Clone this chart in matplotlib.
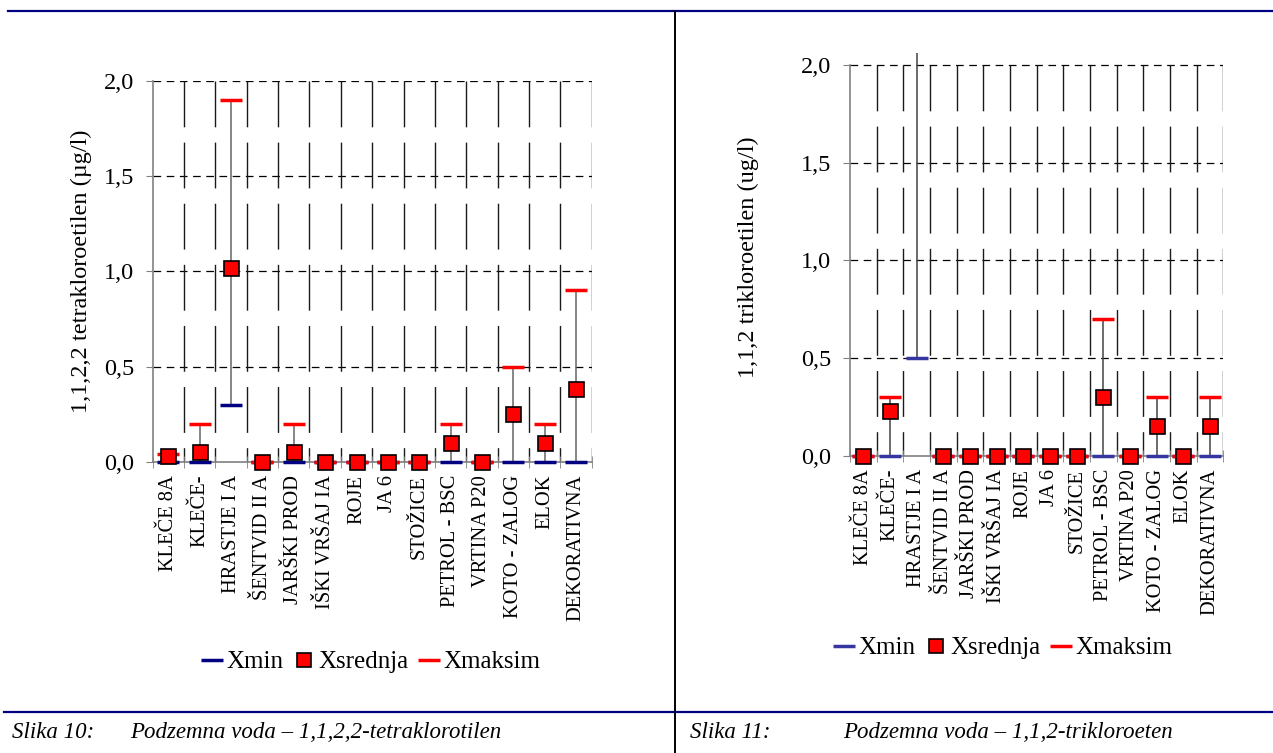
import matplotlib
matplotlib.use('Agg')
import matplotlib.pyplot as plt
from matplotlib.lines import Line2D
import numpy as np

plt.rcParams['font.family'] = ['Liberation Serif', 'DejaVu Serif']
plt.rcParams['lines.scale_dashes'] = False

postaje = ['KLEČE 8A', 'KLEČE-', 'HRASTJE I A', 'ŠENTVID II A', 'JARŠKI PROD',
           'IŠKI VRŠAJ IA', 'ROJE', 'JA 6', 'STOŽICE', 'PETROL - BSC',
           'VRTINA P20', 'KOTO - ZALOG', 'ELOK', 'DEKORATIVNA']

# 1,1,2,2 tetrakloroetilen (ug/l)
tetra_min = [0, 0, 0.3, 0, 0, 0, 0, 0, 0, 0, 0, 0, 0, 0]
tetra_sred = [0.03, 0.05, 1.02, 0, 0.05, 0, 0, 0, 0, 0.1, 0, 0.25, 0.1, 0.38]
tetra_max = [0.04, 0.2, 1.9, 0, 0.2, 0, 0, 0, 0, 0.2, 0, 0.5, 0.2, 0.9]

# 1,1,2 trikloroetilen (ug/l) - HRASTJE srednja/maks izven skale
tri_min = [0, 0, 0.5, 0, 0, 0, 0, 0, 0, 0, 0, 0, 0, 0]
tri_sred = [0, 0.23, 2.6, 0, 0, 0, 0, 0, 0, 0.3, 0, 0.15, 0, 0.15]
tri_max = [0, 0.3, 4.8, 0, 0, 0, 0, 0, 0, 0.7, 0, 0.3, 0, 0.3]

yticks = [0, 0.5, 1.0, 1.5, 2.0]

W, H = 1273, 753
fig = plt.figure(figsize=(W / 100, H / 100), dpi=100)


def px(x, y):
    return x / W, 1 - y / H


def narisi(ax, mins, sred, maxs, ylabel, min_color, hl_color, ytop, label_xy):
    n = len(postaje)
    x = np.arange(n)
    ax.set_xlim(-0.5, n - 0.5)
    ax.set_ylim(-0.045, ytop)
    # grid
    ax.hlines(yticks[1:], -0.5, n - 0.5, colors='black', linewidth=0.9,
              linestyles=[(0, (5.5, 4))], zorder=1)
    ax.vlines(np.arange(0.5, n), 2.0, 0, colors='#1a1a1a', linewidth=1.0,
              linestyles=[(0, (33, 11))], zorder=1)
    # high-low lines
    ax.vlines(x, mins, maxs, colors=hl_color, linewidth=1.1, zorder=2)
    ax.plot(x, mins, linestyle='none', marker='_', markersize=16.5,
            markeredgewidth=2.5, color=min_color, zorder=3, label='Xmin')
    ax.plot(x, maxs, linestyle='none', marker='_', markersize=16.5,
            markeredgewidth=2.5, color='#ff0000', zorder=3, label='Xmaksim')
    ax.plot(x, sred, linestyle='none', marker='s', markersize=10.8,
            markerfacecolor='#ff0000', markeredgecolor='black',
            markeredgewidth=1.2, zorder=4, label='Xsrednja')

    for s in ['top', 'right']:
        ax.spines[s].set_visible(False)
    ax.spines['left'].set_bounds(0, 2.0)
    ax.spines['left'].set_color('#808080')
    ax.spines['left'].set_linewidth(1.2)
    ax.spines['bottom'].set_position(('data', 0))
    ax.spines['bottom'].set_color('#808080')
    ax.spines['bottom'].set_linewidth(1.2)

    ax.set_yticks(yticks)
    ax.set_yticklabels([f'{v:.1f}'.replace('.', ',') for v in yticks], fontsize=17.5)
    ax.tick_params(axis='y', direction='out', length=5, color='#808080', pad=8.5)
    ax.set_xticks(x)
    ax.set_xticklabels(postaje, rotation=90, fontsize=14.8)
    ax.tick_params(axis='x', length=0, pad=9.5)
    ax.set_xticks(np.arange(-0.5, n), minor=True)
    ax.tick_params(axis='x', which='minor', direction='inout', length=8, color='#808080')
    ax.set_ylabel(ylabel, fontsize=17.5)
    ax.yaxis.set_label_coords(*label_xy)


ax1 = fig.add_axes([152.7 / W, 1 - 470.3 / H, 439 / W, (470.3 - 81) / H])
narisi(ax1, tetra_min, tetra_sred, tetra_max,
       '1,1,2,2 tetrakloroetilen (µg/l)', '#000080', '#666666', 2.0, (-0.138, 0.511))

ax2 = fig.add_axes([850 / W, 1 - 464.5 / H, 373.3 / W, (464.5 - 53.3) / H])
narisi(ax2, tri_min, tri_sred, tri_max,
       '1,1,2 trikloroetilen (ug/l)', '#3636a0', '#444444', 2.06, (-0.243, 0.503))

for ax, (lx, ly) in [(ax1, (372, 662)), (ax2, (1004, 648))]:
    h, l = ax.get_legend_handles_labels()
    order = [0, 2, 1]
    fig.legend([h[i] for i in order], [l[i] for i in order], loc='center',
               bbox_to_anchor=px(lx, ly), ncol=3, frameon=False, fontsize=18,
               handlelength=0.7, handletextpad=0.25, columnspacing=0.45,
               markerscale=0.95)

# okvir
fig.add_artist(Line2D([8 / W, 1], [1 - 10.7 / H] * 2, transform=fig.transFigure,
                      color='#000080', lw=1.6))
fig.add_artist(Line2D([4 / W, 1], [1 - 711.7 / H] * 2, transform=fig.transFigure,
                      color='#000080', lw=1.6))
fig.add_artist(Line2D([675 / W] * 2, [1 - 10.7 / H, 0], transform=fig.transFigure,
                      color='black', lw=1.4))

fig.text(*px(12, 733), 'Slika 10:', style='italic', fontsize=16.5, va='center')
fig.text(*px(130, 733), 'Podzemna voda – 1,1,2,2-tetraklorotilen', style='italic',
         fontsize=16.5, va='center')
fig.text(*px(690, 733), 'Slika 11:', style='italic', fontsize=16.5, va='center')
fig.text(*px(843, 733), 'Podzemna voda – 1,1,2-trikloroeten', style='italic',
         fontsize=16.5, va='center')

fig.savefig('out.png', dpi=100)
